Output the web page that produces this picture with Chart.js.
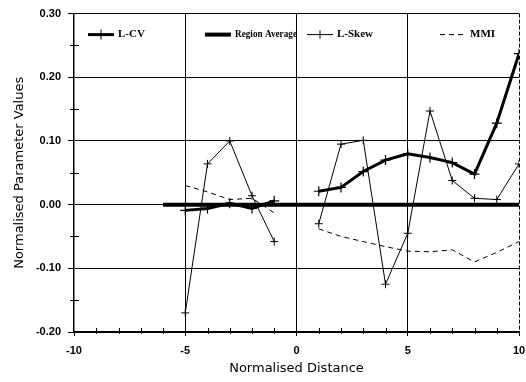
<!DOCTYPE html>
<html>
<head>
<meta charset="utf-8">
<script src="https://cdn.jsdelivr.net/npm/chart.js@4/dist/chart.umd.min.js"></script>
<style>
  html, body { margin: 0; padding: 0; background: #fff; }
  #wrap { width: 526px; height: 382px; }
</style>
</head>
<body>
<div id="wrap"><canvas id="chart"></canvas></div>
<script>
// datos
var distance = [-5, -4, -3, -2, -1, 0, 1, 2, 3, 4, 5, 6, 7, 8, 9, 10];
var lcv = [-0.009, -0.006, 0.002, -0.006, 0.006, null, 0.021, 0.027, 0.052, 0.070, 0.080, 0.074, 0.066, 0.048, 0.128, 0.237];
var lskew = [-0.170, 0.064, 0.100, 0.014, -0.058, null, -0.030, 0.095, 0.101, -0.125, -0.045, 0.147, 0.038, 0.010, 0.008, 0.064];
var mmi = [0.030, 0.020, 0.008, 0.010, -0.013, null, -0.038, -0.050, -0.058, -0.066, -0.073, -0.074, -0.071, -0.090, -0.075, -0.058];
var regionDistance = [-6, 10];
var regionAverage = [0, 0];
var seriesNames = ['L-CV', 'Region Average', 'L-Skew', 'MMI'];
var xTicks = [-10, -5, 0, 5, 10];
var yTicks = [-0.20, -0.10, 0.00, 0.10, 0.20, 0.30];

function toPoints(xs, ys) {
    return xs.map(function (x, i) { return { x: x, y: ys[i] }; });
}

function isMajorY(v) {
    return yTicks.some(function (t) { return Math.abs(t - v) < 1e-6; });
}

function isMajorX(v) {
    return xTicks.indexOf(v) !== -1;
}

// marcas menores interiores, borde derecho punteado y leyenda dentro del grafico
var extrasPlugin = {
    id: 'extras',
    afterDraw: function (chart) {
        var ctx = chart.ctx;
        var area = chart.chartArea;
        var xs = chart.scales.x;
        var ys = chart.scales.y;
        ctx.save();
        ctx.strokeStyle = '#000';
        ctx.lineWidth = 1;
        ys.ticks.forEach(function (t) {
            if (isMajorY(t.value)) return;
            var py = Math.round(ys.getPixelForValue(t.value)) + 0.5;
            ctx.beginPath();
            ctx.moveTo(area.left - 4, py);
            ctx.lineTo(area.left + 5, py);
            ctx.stroke();
        });
        xs.ticks.forEach(function (t) {
            if (isMajorX(t.value)) return;
            var px = Math.round(xs.getPixelForValue(t.value)) + 0.5;
            ctx.beginPath();
            ctx.moveTo(px, area.bottom + 2);
            ctx.lineTo(px, area.bottom - 4);
            ctx.stroke();
        });
        ctx.setLineDash([4, 2]);
        ctx.beginPath();
        ctx.moveTo(area.right + 0.5, area.top);
        ctx.lineTo(area.right + 0.5, area.bottom);
        ctx.stroke();
        ctx.setLineDash([]);

        var ly = area.top + 21;
        var starts = [88, 205, 307, 440];
        var maxText = [40, 62, 45, 40];
        chart.data.datasets.forEach(function (ds, i) {
            var x0 = starts[i];
            ctx.strokeStyle = '#000';
            ctx.lineWidth = ds.borderWidth;
            ctx.setLineDash(ds.borderDash || []);
            ctx.beginPath();
            ctx.moveTo(x0, ly);
            ctx.lineTo(x0 + 26, ly);
            ctx.stroke();
            ctx.setLineDash([]);
            if (ds.pointRadius > 0) {
                ctx.lineWidth = 1;
                ctx.beginPath();
                ctx.moveTo(x0 + 13, ly - ds.pointRadius);
                ctx.lineTo(x0 + 13, ly + ds.pointRadius);
                ctx.stroke();
            }
            ctx.fillStyle = '#000';
            ctx.font = 'bold 11px "Liberation Serif"';
            ctx.textBaseline = 'middle';
            ctx.textAlign = 'left';
            ctx.fillText(ds.label, x0 + 30, ly, maxText[i]);
        });
        ctx.restore();
    }
};

var ctx = document.getElementById('chart').getContext('2d');
var chart = new Chart(ctx, {
    type: 'line',
    data: {
        datasets: [{
            label: seriesNames[0],
            data: toPoints(distance, lcv),
            borderColor: '#000',
            borderWidth: 3,
            pointStyle: 'cross',
            pointRadius: 5,
            pointBorderColor: '#000',
            pointBorderWidth: 1.2,
            spanGaps: false,
            order: 1
        }, {
            label: seriesNames[1],
            data: toPoints(regionDistance, regionAverage),
            borderColor: '#000',
            borderWidth: 4,
            pointRadius: 0,
            order: 2
        }, {
            label: seriesNames[2],
            data: toPoints(distance, lskew),
            borderColor: '#000',
            borderWidth: 1,
            pointStyle: 'cross',
            pointRadius: 4,
            pointBorderColor: '#000',
            pointBorderWidth: 1,
            spanGaps: false,
            order: 3
        }, {
            label: seriesNames[3],
            data: toPoints(distance, mmi),
            borderColor: '#000',
            borderWidth: 1,
            borderDash: [5, 4],
            pointRadius: 0,
            spanGaps: false,
            order: 4
        }]
    },
    options: {
        responsive: true,
        maintainAspectRatio: false,
        animation: false,
        layout: { padding: { top: 9, right: 7, left: 0, bottom: 0 } },
        elements: { line: { tension: 0 } },
        plugins: {
            legend: { display: false },
            tooltip: { enabled: false }
        },
        scales: {
            x: {
                type: 'linear',
                min: -10,
                max: 10,
                afterFit: function (scale) {
                    scale.height = 50;
                    scale.paddingLeft = 0;
                    scale.paddingRight = 0;
                },
                ticks: {
                    stepSize: 1,
                    autoSkip: false,
                    maxRotation: 0,
                    color: '#000',
                    padding: 8,
                    font: { family: '"Liberation Sans"', size: 11, weight: 'bold' },
                    callback: function (v) { return isMajorX(v) ? String(v) : ''; }
                },
                grid: {
                    color: function (c) {
                        var v = c.tick && c.tick.value;
                        return (v === -5 || v === 0 || v === 5) ? '#000' : 'rgba(0,0,0,0)';
                    },
                    lineWidth: 1,
                    tickLength: 4,
                    tickColor: function (c) { return isMajorX(c.tick.value) ? '#000' : 'rgba(0,0,0,0)'; }
                },
                border: { color: '#000', width: 1.5 },
                title: {
                    display: true,
                    text: 'Normalised Distance',
                    color: '#000',
                    font: { family: '"DejaVu Sans"', size: 13 },
                    padding: { top: 0, bottom: 6 }
                }
            },
            y: {
                min: -0.2,
                max: 0.3,
                afterFit: function (scale) { scale.width = 74; },
                ticks: {
                    stepSize: 0.05,
                    autoSkip: false,
                    color: '#000',
                    padding: 7,
                    font: { family: '"Liberation Sans"', size: 11, weight: 'bold' },
                    callback: function (v) { return isMajorY(v) ? (Math.abs(v) < 1e-9 ? 0 : v).toFixed(2) : ''; }
                },
                grid: {
                    color: function (c) {
                        var v = c.tick && c.tick.value;
                        return (v !== undefined && isMajorY(v)) ? '#000' : 'rgba(0,0,0,0)';
                    },
                    lineWidth: 1,
                    tickLength: 6,
                    tickColor: function (c) { return isMajorY(c.tick.value) ? '#000' : 'rgba(0,0,0,0)'; }
                },
                border: { color: '#000', width: 1.5 },
                title: {
                    display: true,
                    text: 'Normalised Parameter Values',
                    color: '#000',
                    font: { family: '"DejaVu Sans"', size: 13 },
                    padding: { top: 12, bottom: 0 }
                }
            }
        }
    },
    plugins: [extrasPlugin]
});
</script>
</body>
</html>
